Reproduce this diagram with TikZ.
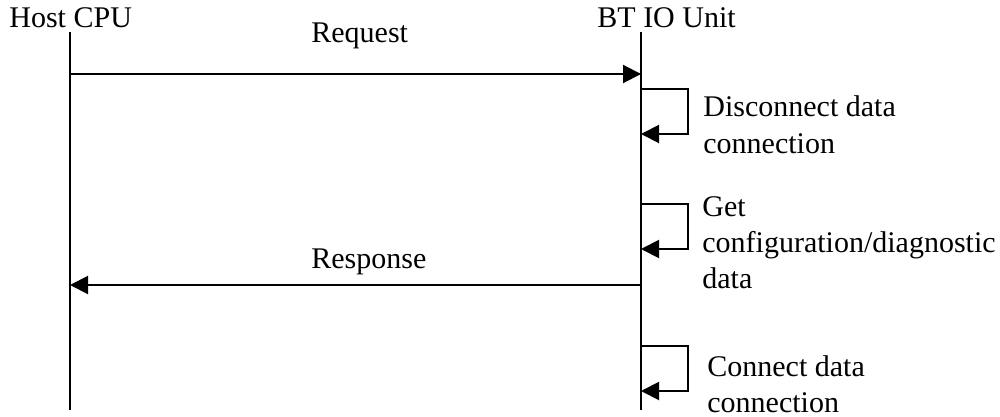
\documentclass[tikz,border=0pt]{standalone}
\usepackage{fontspec}
\setmainfont{Liberation Serif}
\usepackage{tikz}
\usetikzlibrary{arrows.meta}
\tikzstyle{life} = [draw, line width=1pt]
\tikzstyle{line} = [draw, line width=1pt, -{Triangle[length=9pt,width=9pt]}]
\tikzstyle{lbl} = [inner sep=0pt, anchor=base west, align=left, font=\fontsize{15pt}{18pt}\selectfont]

\begin{document}
\begin{tikzpicture}[x=0.5pt, y=-0.5pt]
		\useasboundingbox (0,0) rectangle (1000,417);
		% Place nodes
		\node [lbl] (host) at (9,28) {Host CPU};
		\node [lbl] (btio) at (597,28) {BT IO Unit};
		\node [lbl] (req) at (311,43) {Request};
		\node [lbl] (resp) at (311,268) {Response};
		\node [lbl] (disc) at (703,153) {Disconnect data\\connection};
		\node [lbl] (get) at (702,288) {Get\\configuration/diagnostic\\data};
		\node [lbl] (conn) at (707,412) {Connect data\\connection};
		% Lifelines
		\coordinate (hosttop) at (70,32);
		\coordinate (hostbot) at (70,410);
		\coordinate (btiotop) at (641,32);
		\coordinate (btiobot) at (641,410);
		\path [life] (hosttop) -- (hostbot);
		\path [life] (btiotop) -- (btiobot);
		% Draw edges
		\path [line] (hosttop |- 0,74) -- (btiotop |- 0,74);
		\path [line] (btiotop |- 0,285) -- (hosttop |- 0,285);
		\path [line] (btiotop |- 0,89) -- ++(47,0) |- (btiotop |- 0,134);
		\path [line] (btiotop |- 0,204) -- ++(47,0) |- (btiotop |- 0,249);
		\path [line] (btiotop |- 0,346) -- ++(47,0) |- (btiotop |- 0,391);
	\end{tikzpicture}
\end{document}
